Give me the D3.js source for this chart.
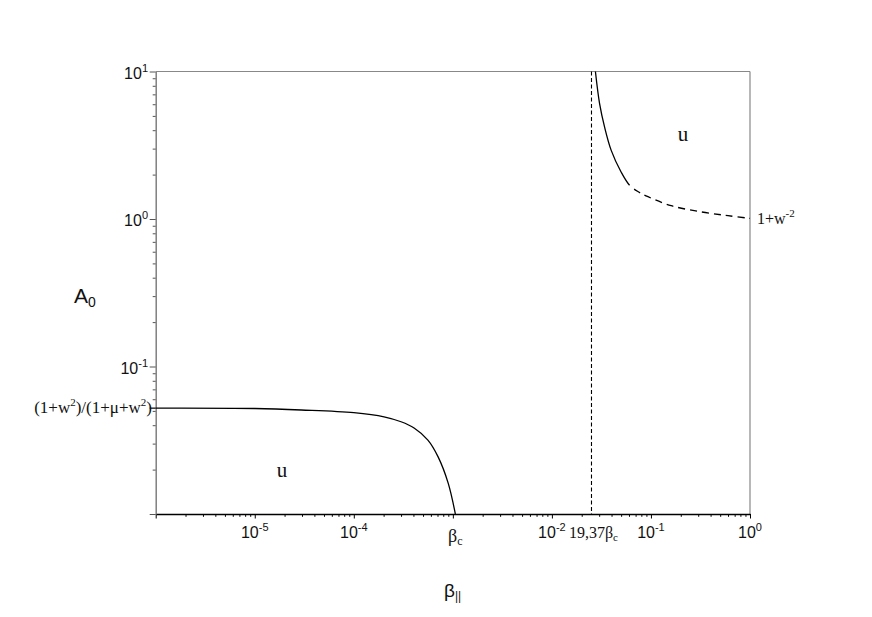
<!DOCTYPE html>
<html><head><meta charset="utf-8">
<script src="https://cdn.jsdelivr.net/npm/d3@7"></script>
<style>body{margin:0;background:#fff}</style></head>
<body><svg id="c" width="872" height="617"></svg>
<script>
// ---- data ----
const xDomain = [1e-6, 1];
const yDomain = [1e-2, 10];
const lowerX = [1e-6, 1e-5, 2.95e-5, 1e-4, 2.02e-4, 3.0e-4, 4.06e-4, 5.6e-4, 7.1e-4, 8.97e-4, 1.06e-3];
const lowerY = [0.0522, 0.0519, 0.0507, 0.0486, 0.0456, 0.0422, 0.0383, 0.0317, 0.0244, 0.0162, 0.01];
const upperX = [0.0275, 0.0303, 0.034, 0.0397, 0.0501, 0.0608, 0.0744, 0.0933, 0.160, 0.322, 0.60, 1.0];
const upperY = [10, 6.06, 4.21, 2.92, 2.075, 1.694, 1.531, 1.416, 1.231, 1.117, 1.053, 1.01];
const upperSolidUntil = 0.0608;   // solid part ends here, dashed afterwards
const betaC = 1.06e-3;
const verticalX = 0.0251;
const yPlateau = 0.0522;
const xTickExps = [-5, -4, -2, -1, 0];
const yTickExps = [1, 0, -1];

// ---- layout ----
const L = 155.7, R = 750, T = 71.5, B = 514;
const svg = d3.select("#c");
const x = d3.scaleLog().domain(xDomain).range([L, R]);
const y = d3.scaleLog().domain(yDomain).range([B, T]);

function logTicks(dom) {
  const out = [];
  const e0 = Math.round(Math.log10(dom[0])), e1 = Math.round(Math.log10(dom[1]));
  for (let e = e0; e <= e1; e++) for (let m = 1; m <= 9; m++) {
    const v = m * Math.pow(10, e);
    if (v >= dom[0] * 0.999 && v <= dom[1] * 1.001) out.push({v, major: m === 1});
  }
  return out;
}

svg.append("line").attr("x1", L).attr("x2", R).attr("y1", T).attr("y2", T).attr("stroke", "#888").attr("stroke-width", 1.2);
svg.append("line").attr("x1", R).attr("x2", R).attr("y1", T).attr("y2", B).attr("stroke", "#888").attr("stroke-width", 1.2);

const xt = logTicks(xDomain);
const gx = svg.append("g").attr("transform", `translate(0,${B})`)
  .call(d3.axisBottom(x).tickValues(xt.map(d => d.v)).tickFormat("").tickSizeOuter(0));
gx.select(".domain").attr("stroke", "#000").attr("stroke-width", 1.4);
gx.selectAll(".tick line").attr("stroke", "#000").attr("y2", (d, i) => xt[i].major ? 4.5 : 2.8);

const yt = logTicks(yDomain);
const gy = svg.append("g").attr("transform", `translate(${L},0)`)
  .call(d3.axisLeft(y).tickValues(yt.map(d => d.v)).tickFormat("").tickSizeOuter(0));
gy.select(".domain").attr("stroke", "#777").attr("stroke-width", 1.4);
gy.selectAll(".tick line").attr("stroke", "#555").attr("x2", (d, i) => yt[i].major ? -6 : -3);
svg.append("line").attr("x1", L - 6).attr("x2", L).attr("y1", y(yPlateau)).attr("y2", y(yPlateau)).attr("stroke", "#000").attr("stroke-width", 1.2);

const sans = "'Liberation Sans', Arial, sans-serif";
const serif = "'Liberation Serif', 'Times New Roman', serif";
xTickExps.forEach(e => {
  const t = svg.append("text").attr("x", x(Math.pow(10, e))).attr("y", 538)
    .attr("text-anchor", "middle").attr("font-family", sans).attr("font-size", 16).attr("fill", "#111");
  t.append("tspan").text("10");
  t.append("tspan").attr("dy", -7).attr("font-size", 11).text(e);
});
yTickExps.forEach(e => {
  const t = svg.append("text").attr("x", 148).attr("y", y(Math.pow(10, e)) + 7)
    .attr("text-anchor", "end").attr("font-family", sans).attr("font-size", 16).attr("fill", "#111");
  t.append("tspan").text("10");
  t.append("tspan").attr("dy", -7).attr("font-size", 11).text(e);
});
{
  const t = svg.append("text").attr("x", x(betaC)).attr("y", 542).attr("text-anchor", "middle")
    .attr("font-family", serif).attr("font-size", 18).attr("fill", "#111");
  t.append("tspan").text("β");
  t.append("tspan").attr("dy", 3).attr("font-size", 12).text("c");
}
{
  const t = svg.append("text").attr("x", x(verticalX) + 2).attr("y", 538).attr("text-anchor", "middle")
    .attr("font-family", serif).attr("font-size", 16).attr("fill", "#111");
  t.append("tspan").text("19,37β");
  t.append("tspan").attr("dy", 3).attr("font-size", 11).text("c");
}
{
  const t = svg.append("text").attr("x", 152).attr("y", y(yPlateau) + 5).attr("text-anchor", "end")
    .attr("font-family", serif).attr("font-size", 17).attr("fill", "#111");
  t.append("tspan").text("(1+w");
  t.append("tspan").attr("dy", -7).attr("font-size", 11).text("2");
  t.append("tspan").attr("dy", 7).text(")/(1+μ+w");
  t.append("tspan").attr("dy", -7).attr("font-size", 11).text("2");
  t.append("tspan").attr("dy", 7).text(")");
}
{
  const t = svg.append("text").attr("x", 757).attr("y", y(1) + 5).attr("text-anchor", "start")
    .attr("font-family", serif).attr("font-size", 16).attr("fill", "#111");
  t.append("tspan").text("1+w");
  t.append("tspan").attr("dy", -7).attr("font-size", 11).text("-2");
}
svg.append("text").attr("x", 683).attr("y", 141).attr("text-anchor", "middle").attr("font-family", serif).attr("font-size", 21).attr("fill", "#111").text("u");
svg.append("text").attr("x", 282).attr("y", 477).attr("text-anchor", "middle").attr("font-family", serif).attr("font-size", 21).attr("fill", "#111").text("u");
{
  const t = svg.append("text").attr("x", 74).attr("y", 303).attr("font-family", sans).attr("font-size", 21).attr("fill", "#111");
  t.append("tspan").text("A");
  t.append("tspan").attr("dy", 4).attr("font-size", 14).text("0");
}
{
  const t = svg.append("text").attr("x", 444).attr("y", 597).attr("font-family", sans).attr("font-size", 19).attr("fill", "#111");
  t.append("tspan").text("β");
  t.append("tspan").attr("dy", 3).attr("font-size", 12).text("||");
}

const line = d3.line().x(d => x(d[0])).y(d => y(d[1])).curve(d3.curveCatmullRom.alpha(0.5));
svg.append("path").datum(lowerX.map((v, i) => [v, lowerY[i]])).attr("d", line)
  .attr("fill", "none").attr("stroke", "#000").attr("stroke-width", 1.3);

const up = svg.append("path").datum(upperX.map((v, i) => [v, upperY[i]])).attr("d", line)
  .attr("fill", "none").attr("stroke", "#000").attr("stroke-width", 1.3);
const node = up.node(), total = node.getTotalLength(), xs = x(upperSolidUntil);
let lo = 0, hi = total;
for (let k = 0; k < 40; k++) { const m = (lo + hi) / 2; if (node.getPointAtLength(m).x < xs) lo = m; else hi = m; }
const dash = [lo, 6];
let acc = lo + 6;
while (acc < total + 20) { dash.push(7, 5); acc += 12; }
if (dash.length % 2) dash.push(5);
up.attr("stroke-dasharray", dash.join(","));

svg.append("line").attr("x1", x(verticalX)).attr("x2", x(verticalX)).attr("y1", T).attr("y2", B)
  .attr("stroke", "#000").attr("stroke-width", 1.1).attr("stroke-dasharray", "4,2.5");
</script></body></html>
